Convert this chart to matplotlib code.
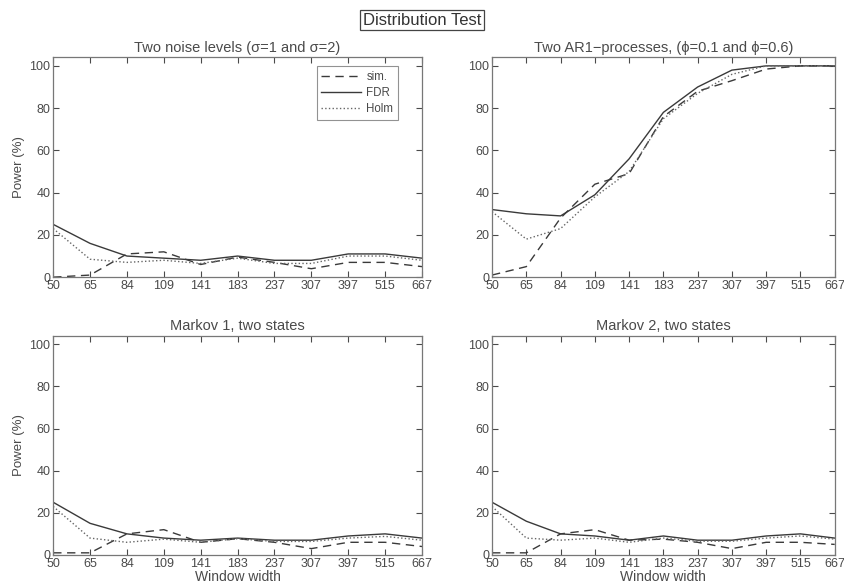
import matplotlib
matplotlib.use("Agg")
import matplotlib.pyplot as plt

plt.rcParams['font.family'] = ['Liberation Sans', 'DejaVu Sans']

widths = ['50', '65', '84', '109', '141', '183', '237', '307', '397', '515', '667']

titles = ['Two noise levels (σ=1 and σ=2)',
          'Two AR1−processes, (ϕ=0.1 and ϕ=0.6)',
          'Markov 1, two states',
          'Markov 2, two states']

# power (%) per window width: simulated, FDR, Holm
noise_sim = [0, 1, 11, 12, 6, 9.5, 7, 4, 7, 7, 5]
noise_fdr = [25, 16, 10, 9, 8, 10, 8, 8, 11, 11, 9]
noise_holm = [23, 8.5, 7, 8, 6.5, 9, 6.5, 6.5, 10, 10, 8]

ar_sim = [1, 5, 28, 44, 49, 76, 88, 93, 98.5, 100, 100]
ar_fdr = [32, 30, 29, 39, 56, 78, 90, 98, 100, 100, 100]
ar_holm = [31, 18, 23, 38, 50, 75, 87, 96, 100, 100, 100]

mk1_sim = [1, 1, 10, 12, 6, 7.7, 6, 3, 6, 6, 4]
mk1_fdr = [25, 15, 10, 8, 7, 8, 7, 7, 9, 10, 8]
mk1_holm = [23, 8, 6, 7.5, 6, 7.7, 6.4, 6.4, 8, 8.8, 7]

mk2_sim = [1, 1, 10, 12, 7, 7.5, 6, 3, 6, 6, 5]
mk2_fdr = [25, 16, 10, 9, 7, 9, 7, 7, 9, 10, 8]
mk2_holm = [23, 8, 7, 8, 6, 8, 6.5, 6.5, 8, 9, 7.5]

data = [(noise_sim, noise_fdr, noise_holm),
        (ar_sim, ar_fdr, ar_holm),
        (mk1_sim, mk1_fdr, mk1_holm),
        (mk2_sim, mk2_fdr, mk2_holm)]

fg = '#4a4a4a'
lc = '#3a3a3a'

fig = plt.figure(figsize=(8.44, 5.86), dpi=100)
boxes = [[0.063, 0.527, 0.437, 0.375],
         [0.583, 0.527, 0.406, 0.375],
         [0.063, 0.053, 0.437, 0.374],
         [0.583, 0.053, 0.406, 0.374]]

x = list(range(1, len(widths) + 1))
for i in range(4):
    ax = fig.add_axes(boxes[i])
    sim, fdr, holm = data[i]
    ax.plot(x, sim, '--', color=lc, lw=1.0, dashes=(6, 4), label='sim.')
    ax.plot(x, fdr, '-', color=lc, lw=1.0, label='FDR')
    ax.plot(x, holm, ':', color='#666666', lw=1.0, label='Holm')
    ax.set_xlim(1, 11)
    ax.set_ylim(0, 104)
    ax.set_xticks(x)
    ax.set_xticklabels(widths)
    ax.set_yticks([0, 20, 40, 60, 80, 100])
    ax.tick_params(direction='in', top=True, right=True, length=4,
                   labelsize=9, colors=fg, pad=2)
    for s in ax.spines.values():
        s.set_color('#777777')
        s.set_linewidth(0.9)
    ax.set_title(titles[i], fontsize=10.5, color=fg, pad=4)
    if i % 2 == 0:
        ax.set_ylabel('Power (%)', fontsize=9.5, color=fg, labelpad=3)
    if i >= 2:
        ax.set_xlabel('Window width', fontsize=10, color=fg, labelpad=0)
    if i == 0:
        leg = ax.legend(loc='upper right', bbox_to_anchor=(0.935, 0.96),
                        borderaxespad=0, fontsize=8.3, fancybox=False,
                        handlelength=3.4, labelcolor=fg, handletextpad=0.5,
                        labelspacing=0.35)
        leg.get_frame().set_edgecolor('#777777')
        leg.get_frame().set_linewidth(0.8)

fig.text(0.5, 0.978, 'Distribution Test', ha='center', va='top', fontsize=12,
         color='#333333',
         bbox=dict(boxstyle='square,pad=0.15', fc='white', ec='#444444', lw=0.9))

fig.savefig('out.png', dpi=100)
